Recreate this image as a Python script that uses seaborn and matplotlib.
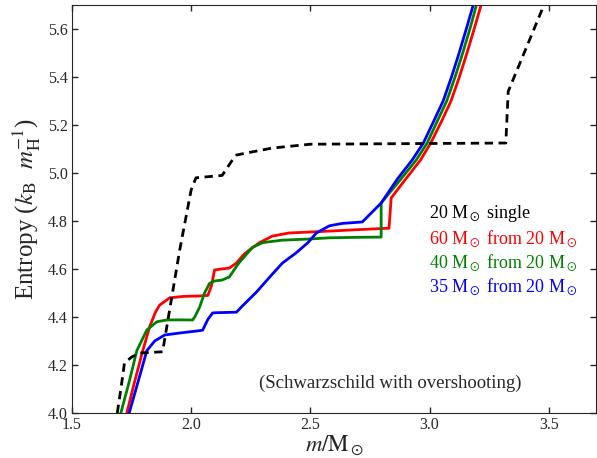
import matplotlib
matplotlib.use("Agg")
import matplotlib.pyplot as plt
import seaborn as sns
import pandas as pd

# 20 Msun single star (dashed)
single_m = [1.69, 1.705, 1.72, 1.75, 1.785, 1.88, 1.952, 2.0, 2.02, 2.13, 2.17, 2.19,
            2.23, 2.34, 2.50, 3.00, 3.32, 3.33, 3.48]
single_s = [4.0, 4.1, 4.208, 4.233, 4.25, 4.255, 4.68, 4.93, 4.98, 4.99, 5.05, 5.075,
            5.083, 5.104, 5.12, 5.123, 5.125, 5.34, 5.70]

# 60 Msun from 20 Msun
red_m = [1.73, 1.76, 1.797, 1.826, 1.85, 1.868, 1.91, 1.97, 2.035, 2.07, 2.085, 2.098,
         2.127, 2.16, 2.19, 2.22, 2.245, 2.287, 2.34, 2.41, 2.496, 2.58, 2.70, 2.83,
         2.839, 2.90, 2.962, 3.005, 3.05, 3.09, 3.125, 3.157, 3.19, 3.222]
red_s = [4.0, 4.12, 4.26, 4.36, 4.42, 4.45, 4.48, 4.486, 4.4875, 4.49, 4.53, 4.596,
         4.60, 4.604, 4.625, 4.66, 4.68, 4.71, 4.737, 4.75, 4.754, 4.758, 4.764, 4.77,
         4.896, 4.975, 5.054, 5.125, 5.215, 5.30, 5.40, 5.50, 5.61, 5.72]

# 40 Msun from 20 Msun
green_m = [1.705, 1.74, 1.772, 1.814, 1.856, 1.897, 1.95, 2.006, 2.015, 2.035, 2.056,
           2.077, 2.098, 2.13, 2.16, 2.20, 2.257, 2.30, 2.38, 2.496, 2.58, 2.70, 2.797,
           2.797, 2.88, 2.944, 2.99, 3.032, 3.072, 3.107, 3.139, 3.172, 3.202]
green_s = [4.0, 4.13, 4.26, 4.346, 4.38, 4.3875, 4.388, 4.3875, 4.40, 4.44, 4.50,
           4.54, 4.55, 4.554, 4.567, 4.625, 4.69, 4.71, 4.72, 4.725, 4.73, 4.732, 4.733,
           4.875, 4.975, 5.054, 5.125, 5.215, 5.30, 5.40, 5.50, 5.61, 5.72]

# 35 Msun from 20 Msun
blue_m = [1.74, 1.78, 1.814, 1.847, 1.889, 1.95, 2.035, 2.048, 2.07, 2.09, 2.11, 2.19,
          2.215, 2.274, 2.33, 2.383, 2.44, 2.49, 2.525, 2.58, 2.634, 2.718, 2.797,
          2.865, 2.927, 2.974, 3.017, 3.057, 3.092, 3.124, 3.157, 3.189]
blue_s = [4.0, 4.14, 4.26, 4.30, 4.325, 4.333, 4.343, 4.345, 4.39, 4.417, 4.418, 4.42,
          4.446, 4.504, 4.567, 4.625, 4.667, 4.71, 4.75, 4.78, 4.79, 4.796, 4.875,
          4.975, 5.054, 5.125, 5.215, 5.30, 5.40, 5.50, 5.61, 5.72]

labels = [r"20 M$_\odot$ single", r"60 M$_\odot$ from 20 M$_\odot$",
          r"40 M$_\odot$ from 20 M$_\odot$", r"35 M$_\odot$ from 20 M$_\odot$"]
colors = ["black", "red", "green", "blue"]

sns.set_style("ticks")
plt.rcParams["font.family"] = ["Liberation Serif", "DejaVu Serif"]
plt.rcParams["mathtext.fontset"] = "stix"
plt.rcParams["xtick.direction"] = "in"
plt.rcParams["ytick.direction"] = "in"

fig = plt.figure(figsize=(5.97, 4.58), dpi=100)
ax = fig.add_axes([0.1206, 0.0983, 0.8784, 0.8907])

series = [(single_m, single_s), (red_m, red_s), (green_m, green_s), (blue_m, blue_s)]
for (m, s), c in zip(series[1:], colors[1:]):
    df = pd.DataFrame({"m": m, "s": s})
    sns.lineplot(data=df, x="m", y="s", color=c, lw=2, sort=False, estimator=None, ax=ax)

df = pd.DataFrame({"m": single_m, "s": single_s})
sns.lineplot(data=df, x="m", y="s", color="black", lw=2, sort=False, estimator=None,
             ax=ax, dashes=False, linestyle=(0, (3, 2)))

ax.set_xlim(1.5, 3.7)
ax.set_ylim(4.0, 5.7)
ax.set_xticks([1.5, 2.0, 2.5, 3.0, 3.5])
ax.set_yticks([4.0, 4.2, 4.4, 4.6, 4.8, 5.0, 5.2, 5.4, 5.6])
ax.tick_params(top=True, right=True, labelsize=11.5, length=4, width=1, pad=3)
ax.set_xlabel(r"$m/\mathrm{M}_\odot$", fontsize=16.5, labelpad=0)
ax.set_ylabel(r"Entropy ($k_\mathrm{B}\ \ m_\mathrm{H}^{-1}$)", fontsize=18, labelpad=4)

ys = [4.833, 4.729, 4.629, 4.529]
for lab, c, y in zip(labels, colors, ys):
    ax.text(2.998, y, lab, color=c, fontsize=13, va="center", ha="left")
ax.text(3.387, 4.125, "(Schwarzschild with overshooting)", fontsize=13.5,
        va="center", ha="right")

fig.savefig("out.png", dpi=100)
